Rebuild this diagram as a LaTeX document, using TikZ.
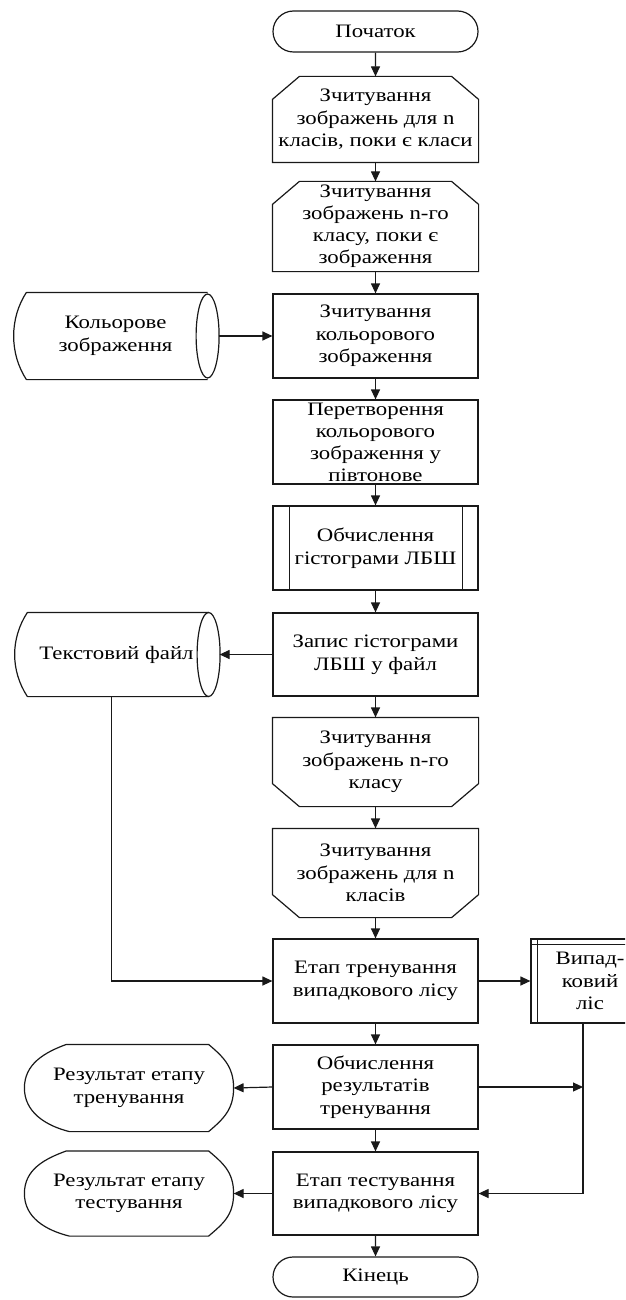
\documentclass[tikz,border=0pt]{standalone}
\usepackage{fontspec}
\setmainfont{Liberation Serif}[FakeStretch=1.2]
\usetikzlibrary{shapes.misc,arrows.meta,calc}
\newcommand\drawstorage[1]{%
  \draw ($(#1.north west)+(14,0)$) -- ($(#1.north east)+(-11,0)$)
        ($(#1.south west)+(14,0)$) -- ($(#1.south east)+(-11,0)$)
        ($(#1.north west)+(14,0)$) .. controls ($(#1.north west)+(-3,26)$) and ($(#1.south west)+(-3,-26)$) .. ($(#1.south west)+(14,0)$);
  \draw ($(#1.east)+(-11,0)$) ellipse [x radius=11.5, y radius=42];
}
\newcommand\drawdisplay[1]{%
  \draw ($(#1.north west)+(42,0)$) -- ($(#1.north east)+(-25,0)$)
     .. controls +(14,12) and +(0,-22) .. (#1.east)
     .. controls +(0,22) and +(14,-12) .. ($(#1.south east)+(-25,0)$)
     -- ($(#1.south west)+(45,0)$)
     .. controls +(-24,-6) and +(0,24) .. (#1.west)
     .. controls +(0,-24) and +(-22,8) .. ($(#1.north west)+(42,0)$) -- cycle;
}
\newcommand\drawloopbeg[1]{%
  \draw ($(#1.north west)+(27,0)$) -- ($(#1.north east)+(-27,0)$) -- ($(#1.north east)+(0,23)$)
     -- (#1.south east) -- (#1.south west) -- ($(#1.north west)+(0,23)$) -- cycle;
}
\newcommand\drawloopend[1]{%
  \draw (#1.north west) -- (#1.north east) -- ($(#1.south east)+(0,-23)$) -- ($(#1.south east)+(-27,0)$)
     -- ($(#1.south west)+(27,0)$) -- ($(#1.south west)+(0,-23)$) -- cycle;
}
\begin{document}
\begin{tikzpicture}[x=1pt,y=-1pt,line width=1.2pt,color=black!90,
  every node/.style={font=\fontsize{19}{22.5}\selectfont,align=center,inner sep=0pt,text=black},
  proc/.style={draw,rectangle,minimum width=205pt,minimum height=84pt},
  term/.style={draw,rounded rectangle,minimum width=205pt,minimum height=41pt},
  loopbox/.style={rectangle,minimum width=205pt,minimum height=86pt},
  sidebox/.style={minimum width=205pt,minimum height=84pt},
  arr/.style={-{Triangle[length=10pt,width=9pt]}}]
\clip (0,0) rectangle (625,1300);
\fill[white] (0,0) rectangle (625,1300);
% main column
\node[term] (start) at (375.5,31.5) {Початок};
\node[loopbox,minimum height=85pt] (read1) at (375.5,119.5) {Зчитування\\зображень для n\\класів, поки є класи};
\drawloopbeg{read1}
\node[loopbox,minimum height=89pt,font=\fontsize{19}{22}\selectfont] (read2) at (375.5,226.5) {Зчитування\\зображень n-го\\класу, поки є\\зображення};
\drawloopbeg{read2}
\node[proc] (readcol) at (375.5,336) {Зчитування\\кольорового\\зображення};
\node[proc,font=\fontsize{19}{22}\selectfont] (conv) at (375.5,442) {Перетворення\\кольорового\\зображення у\\півтонове};
\node[proc] (hist) at (375.5,548) {Обчислення\\гістограми ЛБШ};
\draw ([xshift=17pt]hist.north west) -- ([xshift=17pt]hist.south west);
\draw ([xshift=-16pt]hist.north east) -- ([xshift=-16pt]hist.south east);
\node[proc,minimum height=83pt] (write) at (375.5,654.5) {Запис гістограми\\ЛБШ у файл};
\node[loopbox,minimum height=88pt] (end1) at (375.5,762) {Зчитування\\зображень n-го\\класу};
\drawloopend{end1}
\node[loopbox,minimum height=88pt] (end2) at (375.5,873) {Зчитування\\зображень для n\\класів};
\drawloopend{end2}
\node[proc] (train) at (375.5,981) {Етап тренування\\випадкового лісу};
\node[proc] (calc) at (375.5,1087) {Обчислення\\результатів\\тренування};
\node[proc,minimum height=83pt] (test) at (375.5,1193.5) {Етап тестування\\випадкового лісу};
\node[term,minimum height=40pt] (finish) at (375.5,1277) {Кінець};
% side shapes
\node[sidebox,minimum height=86pt] (colimg) at (115.5,336) {Кольорове\\зображення};
\drawstorage{colimg}
\node[sidebox,minimum height=83pt] (txtfile) at (116.5,654.5) {Текстовий файл};
\drawstorage{txtfile}
\node[draw,rectangle,minimum width=118pt,minimum height=84pt] (forest) at (590,981) {Випад-\\ковий\\ліс};
\draw ([xshift=7pt]forest.north west) -- ([xshift=7pt]forest.south west);
\draw ([yshift=-6pt]forest.north west) -- ([yshift=-6pt]forest.north east);
\node[sidebox,minimum width=208pt,minimum height=86pt] (res1) at (129,1088) {Результат етапу\\тренування};
\drawdisplay{res1}
\node[sidebox,minimum width=208pt,minimum height=84pt] (res2) at (129,1193.5) {Результат етапу\\тестування};
\drawdisplay{res2}
\coordinate (fb) at ([xshift=-7pt]forest.south);
% connectors
\draw[arr] (start) -- (read1);
\draw[arr] (read1) -- (read2);
\draw[arr] (read2) -- (readcol);
\draw[arr] (colimg.east) -- (readcol.west);
\draw[arr] (readcol) -- (conv);
\draw[arr] (conv) -- (hist);
\draw[arr] (hist) -- (write);
\draw[arr] (write.west) -- (txtfile.east);
\draw[arr] (write) -- (end1);
\draw[arr] (end1) -- (end2);
\draw[arr] (end2) -- (train);
\draw[arr] ([xshift=-5pt]txtfile.south) |- (train.west);
\draw[arr] (train.east) -- (forest.west);
\draw[arr] (train) -- (calc);
\draw[arr] (calc.west) -- (res1.east);
\draw[arr] (calc.east) -- (calc.east -| fb);
\draw[arr] (fb) |- (test.east);
\draw[arr] (calc) -- (test);
\draw[arr] (test.west) -- (res2.east);
\draw[arr] (test) -- (finish);
\end{tikzpicture}
\end{document}
